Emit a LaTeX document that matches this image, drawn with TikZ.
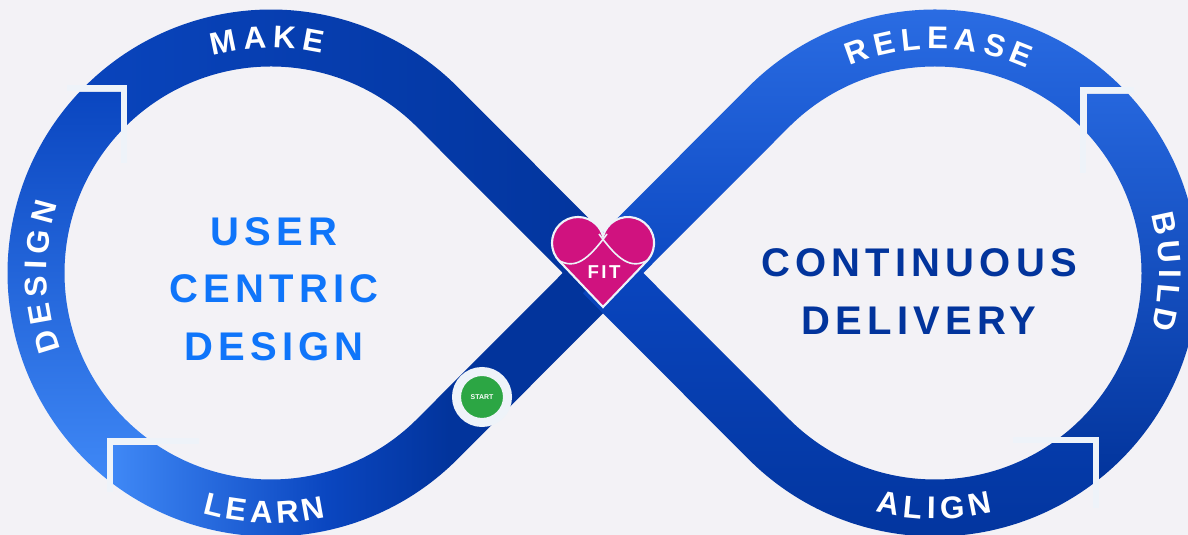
\documentclass[tikz,border=0pt]{standalone}
\usepackage{fontspec}
\setmainfont{Liberation Sans}
\newfontfamily\spacedfont[LetterSpace=13]{Liberation Sans}
\usetikzlibrary{calc,decorations.text}
\definecolor{paper}{HTML}{F3F2F6}
\definecolor{seam}{HTML}{EEF3F9}
\definecolor{navy}{HTML}{02349C}
\definecolor{royal}{HTML}{0A46C0}
\definecolor{sky}{HTML}{3F88F6}
\definecolor{bright}{HTML}{2C6EE4}
\definecolor{azure}{HTML}{0F75FA}
\definecolor{grass}{HTML}{2CA644}
\definecolor{pinkheart}{HTML}{D0127F}
\pgfdeclarehorizontalshading{learnfade}{100bp}{color(0bp)=(sky); color(25bp)=(sky); color(46bp)=(royal); color(58bp)=(navy); color(100bp)=(navy)}
\tikzset{
    seamline/.style = {draw=seam, line width=3.8pt, miter limit=4},
    bigword/.style = {font=\spacedfont\bfseries\fontsize{30}{43}\selectfont, align=center},
    wordpath/.style = {decorate, decoration={text along path, text align=fit to path, text color=white}},
}
\newcommand{\wordfont}{\bfseries\fontsize{23.5}{23.5}\selectfont}
\newcommand{\loopword}[5]{\path[wordpath, decoration={text={|\wordfont|#5}}]
    (#1) ++(#2:#3) arc[start angle=#2, end angle=#4, radius=#3];}

\begin{document}
\begin{tikzpicture}[x=0.75pt, y=0.75pt]
    \useasboundingbox (0,0) rectangle (1188,535);
    \fill[paper] (0,0) rectangle (1188,535);

    \coordinate (L) at (271,262);
    \coordinate (D) at (935,262);
    \coordinate (X) at (603,262);

    % left loop
    \shade[top color=royal, middle color=royal!85!sky, bottom color=sky]
        (122,443) -- ($(L)+(136.6:263.5)$) arc[start angle=136.6, end angle=231.8, radius=263.5]
        -- (108,94) -- ($(L)+(234.5:206.5)$) arc[start angle=234.5, end angle=136.2, radius=206.5] -- cycle;
    \shade[left color=royal!90!navy, right color=navy]
        (124,447) -- ($(L)+(135.4:263.5)$) arc[start angle=135.4, end angle=45, radius=263.5]
        -- ($(X)+(45:28.5)$) -- ($(X)+(225:28.5)$)
        -- ($(L)+(45:206.5)$) arc[start angle=45, end angle=135.4, radius=206.5] -- cycle;
    \shade[shading=learnfade]
        (112,90) -- ($(L)+(232.9:263.5)$) arc[start angle=232.9, end angle=315, radius=263.5]
        -- ($(X)+(-45:28.5)$) -- ($(X)+(135:28.5)$)
        -- ($(L)+(-45:206.5)$) arc[start angle=-45, end angle=-123.5, radius=206.5] -- cycle;

    % right loop
    \shade[top color=bright, bottom color=royal]
        ($(X)+(135:28.5)$) -- ($(D)+(135:263.5)$) arc[start angle=135, end angle=44, radius=263.5]
        -- (1083,445) -- ($(D)+(44.2:206.5)$) arc[start angle=44.2, end angle=135, radius=206.5]
        -- ($(X)+(-45:28.5)$) -- cycle;
    \shade[top color=bright!80!royal, bottom color=navy]
        (1087,441) -- ($(D)+(42.8:263.5)$) arc[start angle=42.8, end angle=-52, radius=263.5]
        -- (1097,96) -- ($(D)+(-53.5:206.5)$) arc[start angle=-53.5, end angle=42.6, radius=206.5] -- cycle;
    \shade[top color=royal, bottom color=navy]
        (1093,93) -- ($(D)+(-53.2:263.5)$) arc[start angle=-53.2, end angle=-135, radius=263.5]
        -- ($(X)+(225:28.5)$) -- ($(X)+(45:28.5)$)
        -- ($(D)+(-135:206.5)$) arc[start angle=-135, end angle=-54.9, radius=206.5] -- cycle;

    % seams
    \draw[seamline] (67,447) -- (124,447) -- (124,372);
    \draw[seamline] (110,43) -- (110,94) -- (199,94);
    \draw[seamline] (1083,362) -- (1083,445) -- (1134,445);
    \draw[seamline] (1013,95) -- (1096,95) -- (1096,27);

    % words on the band
    \loopword{L}{105}{225}{77}{MAKE}
    \loopword{L}{200}{224}{162}{DESIGN}
    \loopword{L}{254}{250}{282.7}{LEARN}
    \loopword{D}{112.5}{224}{65.7}{RELEASE}
    \loopword{D}{15}{224}{-14.5}{BUILD}
    \loopword{D}{256}{246}{283.5}{ALIGN}

    \node (user) [bigword, text=azure] at (274,246) {USER\\CENTRIC\\DESIGN};
    \node (delivery) [bigword, text=navy] at (919,243.5) {CONTINUOUS\\DELIVERY};

    % start badge
    \node (start) [circle, fill=grass, draw=seam, line width=6.75pt, minimum size=38.25pt, inner sep=0pt,
        text=white, font=\bfseries\fontsize{5.2}{5.2}\selectfont] at (482,138) {START};

    % heart
    \draw[fill=pinkheart, draw=seam, line width=1.6pt]
        (603,228) -- ($(578,292)+(225:26)$) arc[start angle=225, end angle=15.6, radius=26]
        arc[start angle=164.4, end angle=-45, radius=26] -- cycle;
    \draw[seam, line width=1.2pt] (558,275) .. controls (575,265) and (588,275) .. (607,301);
    \draw[seam, line width=1.2pt] (648,275) .. controls (631,265) and (618,275) .. (599,301);
    \node (fit) [text=white, font=\spacedfont\bfseries\fontsize{14}{14}\selectfont] at (604,263) {FIT};
\end{tikzpicture}
\end{document}
